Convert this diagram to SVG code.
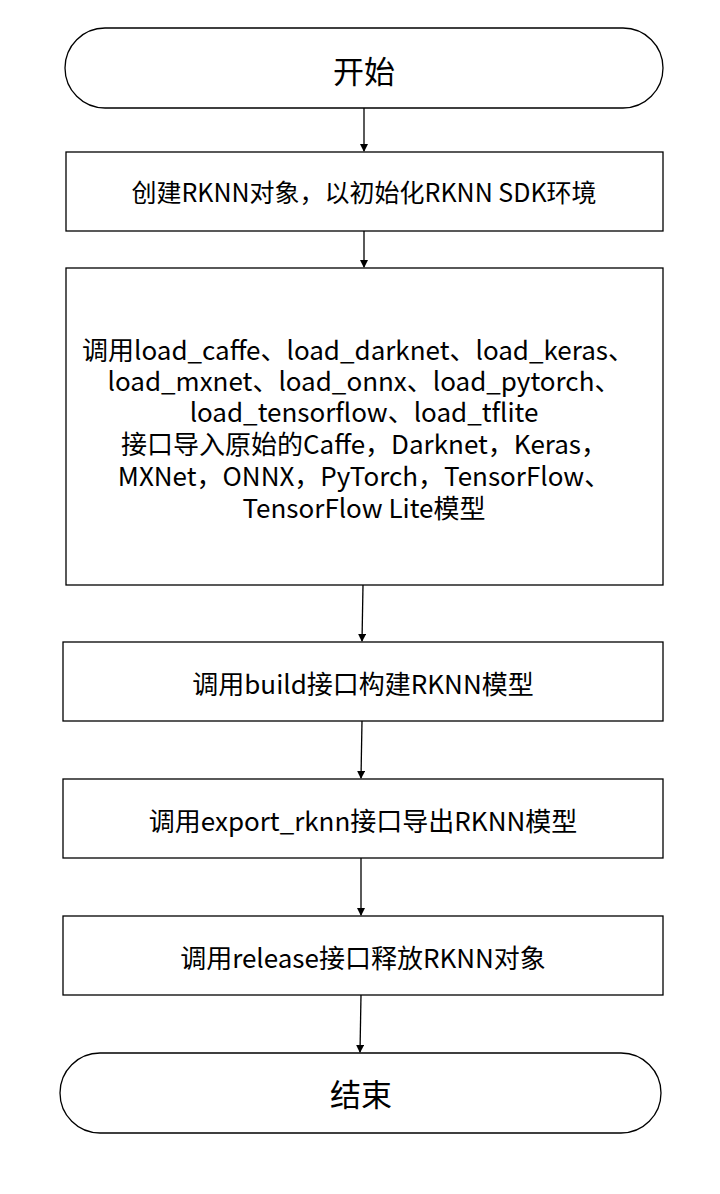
<svg xmlns="http://www.w3.org/2000/svg" width="720" height="1194" viewBox="0 0 720 1194">
<style>
.b{fill:#fff;stroke:#000;stroke-width:1.3}
.t{font-family:"Noto Sans CJK SC","Noto Sans",sans-serif;font-size:25px;text-anchor:middle;dominant-baseline:central;fill:#000}
.l{font-size:26px}
.c{stroke:#000;stroke-width:1.3;fill:none;marker-end:url(#a)}
</style>
<defs><marker id="a" markerWidth="8" markerHeight="8" refX="7" refY="4" orient="auto" markerUnits="userSpaceOnUse"><path d="M0,0 L8,4 L0,8 z" fill="#000"/></marker></defs>
<rect width="720" height="1194" fill="#fff"/>
<g id="start"><rect class="b" x="65" y="28" width="598" height="80" rx="40"/><text class="t" x="364" y="69" style="font-size:31px">开始</text></g>
<g id="n1"><rect class="b" x="66" y="152" width="597" height="79"/><text class="t" x="364" y="191">创建RKNN对象，以初始化RKNN SDK环境</text></g>
<g id="n2"><rect class="b" x="66" y="268" width="597" height="317"/>
<text class="t l" x="358" y="348">调用load_caffe、load_darknet、load_keras、</text>
<text class="t l" x="364" y="379">load_mxnet、load_onnx、load_pytorch、</text>
<text class="t l" x="364" y="410">load_tensorflow、load_tflite</text>
<text class="t l" x="364" y="442">接口导入原始的Caffe，Darknet，Keras，</text>
<text class="t l" x="364" y="474">MXNet，ONNX，PyTorch，TensorFlow、</text>
<text class="t l" x="364" y="506">TensorFlow Lite模型</text></g>
<g id="n3"><rect class="b" x="63" y="642" width="600" height="79"/><text class="t l" x="363" y="682">调用build接口构建RKNN模型</text></g>
<g id="n4"><rect class="b" x="63" y="779" width="600" height="79"/><text class="t l" x="363" y="819">调用export_rknn接口导出RKNN模型</text></g>
<g id="n5"><rect class="b" x="63" y="916" width="600" height="79"/><text class="t l" x="363" y="956">调用release接口释放RKNN对象</text></g>
<g id="end"><rect class="b" x="60" y="1053" width="601" height="80" rx="40"/><text class="t" x="361" y="1092" style="font-size:31px">结束</text></g>
<g id="connectors">
<path class="c" d="M364,108 L364,151"/>
<path class="c" d="M364,231 L364,267"/>
<path class="c" d="M363,585 L362,641"/>
<path class="c" d="M362,721 L361,778"/>
<path class="c" d="M361,858 L361,915"/>
<path class="c" d="M361,995 L360,1052"/>
</g>
</svg>
